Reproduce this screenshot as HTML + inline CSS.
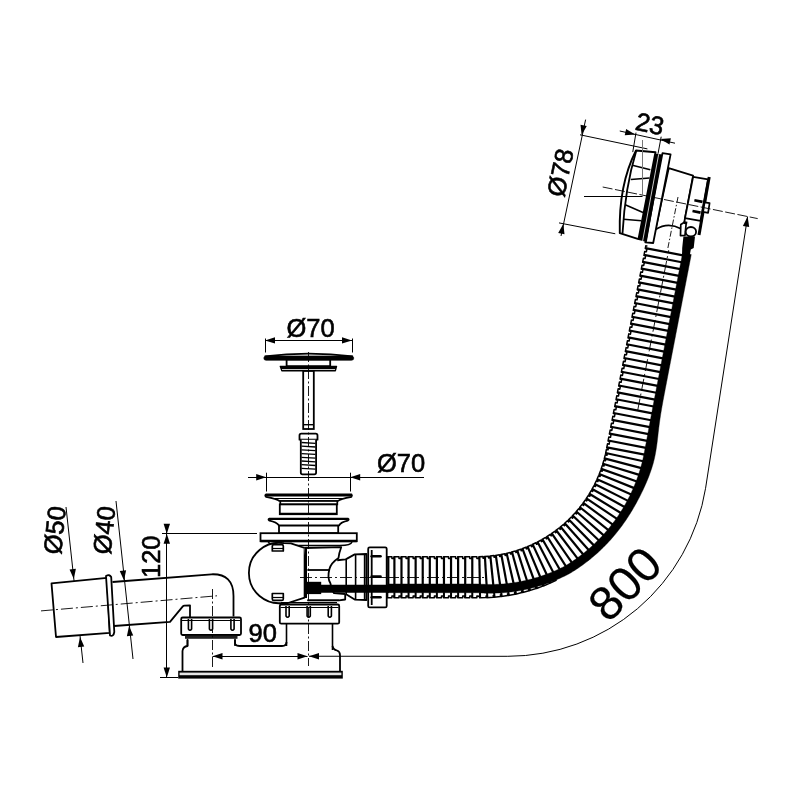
<!DOCTYPE html>
<html><head><meta charset="utf-8"><style>
html,body{margin:0;padding:0;background:#fff;}
svg{display:block;}
text{font-family:"Liberation Sans",sans-serif;fill:#000;}
svg{will-change:transform;}
</style></head><body>
<svg width="800" height="800" viewBox="0 0 800 800">
<rect width="800" height="800" fill="#fff"/>
<path d="M387.5,556.5 L388.7,556.5 L389.89,556.5 L391.09,556.5 L392.29,556.5 L393.49,556.5 L394.68,556.5 L395.88,556.5 L397.08,556.5 L398.28,556.5 L399.47,556.5 L400.67,556.5 L401.87,556.5 L403.07,556.5 L404.26,556.5 L405.46,556.5 L406.66,556.5 L407.85,556.5 L409.05,556.5 L410.25,556.5 L411.45,556.5 L412.64,556.5 L413.84,556.5 L415.04,556.5 L416.24,556.5 L417.43,556.5 L418.63,556.5 L419.83,556.5 L421.02,556.5 L422.22,556.5 L423.42,556.5 L424.62,556.5 L425.81,556.5 L427.01,556.5 L428.21,556.5 L429.41,556.5 L430.6,556.5 L431.8,556.5 L433,556.5 L434.2,556.5 L435.39,556.5 L436.59,556.5 L437.79,556.5 L438.98,556.5 L440.18,556.5 L441.38,556.5 L442.58,556.5 L443.77,556.5 L444.97,556.5 L446.17,556.5 L447.37,556.5 L448.56,556.5 L449.76,556.5 L450.96,556.5 L452.16,556.5 L453.35,556.5 L454.55,556.5 L455.75,556.5 L456.94,556.5 L458.14,556.5 L459.34,556.5 L460.54,556.5 L461.73,556.5 L462.93,556.5 L464.13,556.5 L465.33,556.5 L466.52,556.5 L467.72,556.5 L468.92,556.5 L470.12,556.5 L471.31,556.5 L472.51,556.5 L473.71,556.5 L474.9,556.5 L476.1,556.5 L477.3,556.5 L478.5,556.49 L479.69,556.47 L480.89,556.44 L482.09,556.4 L483.28,556.35 L484.48,556.29 L485.67,556.21 L486.87,556.13 L488.06,556.03 L489.25,555.93 L490.45,555.81 L491.64,555.68 L492.83,555.54 L494.01,555.39 L495.2,555.23 L496.39,555.06 L497.57,554.88 L498.75,554.69 L499.93,554.49 L501.11,554.27 L502.28,554.05 L503.46,553.81 L504.63,553.56 L505.8,553.31 L506.97,553.04 L508.13,552.76 L509.29,552.47 L510.45,552.17 L511.61,551.86 L512.76,551.54 L513.91,551.21 L515.06,550.87 L516.21,550.52 L517.35,550.16 L518.48,549.78 L519.62,549.4 L520.75,549.01 L521.88,548.61 L523,548.19 L524.12,547.77 L525.24,547.33 L526.35,546.89 L527.46,546.44 L528.56,545.97 L529.66,545.5 L530.75,545.01 L531.84,544.52 L532.93,544.01 L534.01,543.5 L535.09,542.97 L536.16,542.44 L537.23,541.9 L538.29,541.34 L539.35,540.78 L540.4,540.21 L541.44,539.63 L542.48,539.04 L543.52,538.43 L544.55,537.82 L545.57,537.2 L546.59,536.58 L547.61,535.94 L548.61,535.29 L549.61,534.63 L550.61,533.97 L551.6,533.29 L552.58,532.61 L553.56,531.92 L554.53,531.21 L555.49,530.5 L556.45,529.79 L557.4,529.06 L558.34,528.32 L559.28,527.58 L560.21,526.82 L561.14,526.06 L562.05,525.29 L562.96,524.51 L563.86,523.73 L564.76,522.93 L565.65,522.13 L566.53,521.32 L567.4,520.5 L568.27,519.67 L569.13,518.84 L569.98,517.99 L570.82,517.14 L571.65,516.28 L572.48,515.42 L573.3,514.55 L574.11,513.66 L574.92,512.78 L575.71,511.88 L576.5,510.98 L577.28,510.07 L578.05,509.15 L578.81,508.23 L579.56,507.3 L580.31,506.36 L581.04,505.42 L581.77,504.47 L582.49,503.51 L583.2,502.55 L583.9,501.58 L584.6,500.6 L585.28,499.62 L585.95,498.63 L586.62,497.63 L587.28,496.63 L587.93,495.62 L588.56,494.61 L589.19,493.59 L589.81,492.57 L590.42,491.54 L591.02,490.5 L591.62,489.46 L592.2,488.42 L592.77,487.36 L593.33,486.31 L593.89,485.25 L594.43,484.18 L594.96,483.11 L595.49,482.03 L596,480.95 L596.51,479.86 L597,478.77 L597.49,477.68 L597.96,476.58 L598.43,475.48 L598.88,474.37 L599.33,473.26 L599.76,472.14 L600.18,471.02 L600.6,469.9 L601,468.77 L601.39,467.64 L601.78,466.51 L602.15,465.37 L602.51,464.23 L602.86,463.08 L603.21,461.93 L603.54,460.78 L603.86,459.63 L604.17,458.47 L604.47,457.31 L604.76,456.15 L605.03,454.99 L605.3,453.82 L605.56,452.65 L605.81,451.48 L606.04,450.31 L606.27,449.13 L606.5,447.96 L606.72,446.78 L606.95,445.6 L607.18,444.43 L607.41,443.25 L607.63,442.08 L607.86,440.9 L608.09,439.73 L608.32,438.55 L608.54,437.38 L608.77,436.2 L609,435.02 L609.23,433.85 L609.45,432.67 L609.68,431.5 L609.91,430.32 L610.14,429.15 L610.36,427.97 L610.59,426.8 L610.82,425.62 L611.05,424.44 L611.27,423.27 L611.5,422.09 L611.73,420.92 L611.96,419.74 L612.18,418.57 L612.41,417.39 L612.64,416.22 L612.87,415.04 L613.09,413.87 L613.32,412.69 L613.55,411.51 L613.78,410.34 L614,409.16 L614.23,407.99 L614.46,406.81 L614.68,405.64 L614.91,404.46 L615.14,403.29 L615.37,402.11 L615.59,400.93 L615.82,399.76 L616.05,398.58 L616.28,397.41 L616.5,396.23 L616.73,395.06 L616.96,393.88 L617.19,392.71 L617.41,391.53 L617.64,390.35 L617.87,389.18 L618.1,388 L618.32,386.83 L618.55,385.65 L618.78,384.48 L619.01,383.3 L619.23,382.13 L619.46,380.95 L619.69,379.78 L619.92,378.6 L620.14,377.42 L620.37,376.25 L620.6,375.07 L620.83,373.9 L621.05,372.72 L621.28,371.55 L621.51,370.37 L621.74,369.2 L621.96,368.02 L622.19,366.84 L622.42,365.67 L622.65,364.49 L622.87,363.32 L623.1,362.14 L623.33,360.97 L623.55,359.79 L623.78,358.62 L624.01,357.44 L624.24,356.26 L624.46,355.09 L624.69,353.91 L624.92,352.74 L625.15,351.56 L625.37,350.39 L625.6,349.21 L625.83,348.04 L626.06,346.86 L626.28,345.69 L626.51,344.51 L626.74,343.33 L626.97,342.16 L627.19,340.98 L627.42,339.81 L627.65,338.63 L627.88,337.46 L628.1,336.28 L628.33,335.11 L628.56,333.93 L628.79,332.75 L629.01,331.58 L629.24,330.4 L629.47,329.23 L629.7,328.05 L629.92,326.88 L630.15,325.7 L630.38,324.53 L630.61,323.35 L630.83,322.17 L631.06,321 L631.29,319.82 L631.52,318.65 L631.74,317.47 L631.97,316.3 L632.2,315.12 L632.42,313.95 L632.65,312.77 L632.88,311.59 L633.11,310.42 L633.33,309.24 L633.56,308.07 L633.79,306.89 L634.02,305.72 L634.24,304.54 L634.47,303.37 L634.7,302.19 L634.93,301.02 L635.15,299.84 L635.38,298.66 L635.61,297.49 L635.84,296.31 L636.06,295.14 L636.29,293.96 L636.52,292.79 L636.75,291.61 L636.97,290.44 L637.2,289.26 L637.43,288.08 L637.66,286.91 L637.88,285.73 L638.11,284.56 L638.34,283.38 L638.57,282.21 L638.79,281.03 L639.02,279.86 L639.25,278.68 L639.48,277.5 L639.7,276.33 L639.93,275.15 L640.16,273.98 L640.38,272.8 L640.61,271.63 L640.84,270.45 L641.07,269.28 L641.29,268.1 L641.52,266.93 L641.75,265.75 L641.98,264.57 L642.2,263.4 L642.43,262.22 L642.66,261.05 L642.89,259.87 L643.11,258.7 L643.34,257.52 L643.57,256.35 L643.8,255.17 L644.02,253.99 L644.25,252.82 L644.48,251.64 L644.71,250.47 L644.93,249.29 L645.16,248.12 L645.39,246.94 L645.62,245.77 L691.27,254.6 L691.04,255.77 L690.81,256.95 L690.59,258.13 L690.36,259.3 L690.13,260.48 L689.9,261.65 L689.68,262.83 L689.45,264 L689.22,265.18 L688.99,266.35 L688.77,267.53 L688.54,268.7 L688.31,269.88 L688.09,271.06 L687.86,272.23 L687.63,273.41 L687.4,274.58 L687.18,275.76 L686.95,276.93 L686.72,278.11 L686.49,279.28 L686.27,280.46 L686.04,281.64 L685.81,282.81 L685.58,283.99 L685.36,285.16 L685.13,286.34 L684.9,287.51 L684.67,288.69 L684.45,289.86 L684.22,291.04 L683.99,292.22 L683.76,293.39 L683.54,294.57 L683.31,295.74 L683.08,296.92 L682.85,298.09 L682.63,299.27 L682.4,300.44 L682.17,301.62 L681.94,302.79 L681.72,303.97 L681.49,305.15 L681.26,306.32 L681.03,307.5 L680.81,308.67 L680.58,309.85 L680.35,311.02 L680.13,312.2 L679.9,313.37 L679.67,314.55 L679.44,315.73 L679.22,316.9 L678.99,318.08 L678.76,319.25 L678.53,320.43 L678.31,321.6 L678.08,322.78 L677.85,323.95 L677.62,325.13 L677.4,326.31 L677.17,327.48 L676.94,328.66 L676.71,329.83 L676.49,331.01 L676.26,332.18 L676.03,333.36 L675.8,334.53 L675.58,335.71 L675.35,336.89 L675.12,338.06 L674.89,339.24 L674.67,340.41 L674.44,341.59 L674.21,342.76 L673.98,343.94 L673.76,345.11 L673.53,346.29 L673.3,347.46 L673.07,348.64 L672.85,349.82 L672.62,350.99 L672.39,352.17 L672.16,353.34 L671.94,354.52 L671.71,355.69 L671.48,356.87 L671.26,358.04 L671.03,359.22 L670.8,360.4 L670.57,361.57 L670.35,362.75 L670.12,363.92 L669.89,365.1 L669.66,366.27 L669.44,367.45 L669.21,368.62 L668.98,369.8 L668.75,370.98 L668.53,372.15 L668.3,373.33 L668.07,374.5 L667.84,375.68 L667.62,376.85 L667.39,378.03 L667.16,379.2 L666.94,380.38 L666.71,381.56 L666.48,382.73 L666.26,383.91 L666.03,385.08 L665.8,386.26 L665.58,387.43 L665.35,388.61 L665.13,389.79 L664.9,390.96 L664.68,392.14 L664.45,393.31 L664.23,394.49 L664.01,395.67 L663.78,396.84 L663.56,398.02 L663.34,399.2 L663.12,400.37 L662.91,401.55 L662.69,402.73 L662.48,403.91 L662.27,405.09 L662.06,406.27 L661.85,407.44 L661.64,408.62 L661.44,409.8 L661.24,410.99 L661.05,412.17 L660.85,413.35 L660.66,414.53 L660.48,415.72 L660.3,416.9 L660.12,418.09 L659.95,419.27 L659.78,420.46 L659.61,421.65 L659.45,422.83 L659.29,424.02 L659.14,425.21 L658.99,426.4 L658.84,427.6 L658.7,428.79 L658.56,429.98 L658.42,431.17 L658.29,432.37 L658.15,433.56 L658.02,434.75 L657.89,435.95 L657.75,437.14 L657.61,438.33 L657.48,439.53 L657.34,440.72 L657.19,441.91 L657.04,443.1 L656.89,444.29 L656.73,445.48 L656.56,446.67 L656.38,447.85 L656.2,449.04 L656.01,450.22 L655.81,451.4 L655.6,452.58 L655.38,453.76 L655.16,454.93 L654.92,456.1 L654.68,457.28 L654.42,458.45 L654.12,459.74 L653.72,461.33 L653.3,462.92 L652.86,464.5 L652.39,466.08 L651.91,467.65 L651.4,469.21 L650.88,470.77 L650.34,472.32 L649.78,473.86 L649.21,475.4 L648.62,476.93 L648.02,478.45 L647.41,479.97 L646.78,481.47 L646.14,482.98 L645.48,484.47 L644.82,485.96 L644.15,487.45 L643.46,488.92 L642.77,490.4 L642.07,491.86 L641.35,493.32 L640.63,494.78 L639.9,496.22 L639.16,497.67 L638.41,499.1 L637.66,500.53 L636.89,501.96 L636.11,503.38 L635.33,504.79 L634.53,506.2 L633.73,507.6 L632.92,508.99 L632.1,510.38 L631.26,511.76 L630.42,513.13 L629.57,514.5 L628.7,515.86 L627.83,517.22 L626.95,518.56 L626.05,519.9 L625.15,521.23 L624.23,522.55 L623.3,523.87 L622.36,525.17 L621.41,526.47 L620.45,527.76 L619.48,529.04 L618.5,530.31 L617.51,531.57 L616.5,532.83 L615.49,534.07 L614.46,535.31 L613.43,536.53 L612.38,537.75 L611.32,538.95 L610.25,540.15 L609.17,541.34 L608.08,542.51 L606.98,543.68 L605.87,544.83 L604.75,545.98 L603.62,547.11 L602.48,548.24 L601.33,549.35 L600.17,550.46 L599,551.55 L597.82,552.63 L596.63,553.7 L595.43,554.76 L594.22,555.81 L593.01,556.85 L591.78,557.87 L590.54,558.89 L589.3,559.89 L588.04,560.88 L586.78,561.86 L585.51,562.83 L584.23,563.78 L582.94,564.73 L581.65,565.66 L580.34,566.58 L579.03,567.49 L577.71,568.39 L576.38,569.27 L575.05,570.14 L573.7,571 L572.35,571.85 L570.99,572.68 L569.63,573.5 L568.25,574.31 L566.87,575.11 L565.48,575.89 L564.09,576.66 L562.69,577.42 L561.28,578.16 L559.87,578.9 L558.45,579.62 L557.02,580.32 L555.59,581.01 L554.15,581.69 L552.71,582.36 L551.26,583.01 L549.8,583.65 L548.34,584.28 L546.88,584.89 L545.4,585.49 L543.93,586.08 L542.44,586.65 L540.96,587.21 L539.47,587.75 L537.97,588.28 L536.47,588.8 L534.97,589.3 L533.46,589.79 L531.94,590.27 L530.43,590.73 L528.91,591.18 L527.38,591.61 L525.85,592.03 L524.32,592.44 L522.79,592.83 L521.25,593.21 L519.71,593.57 L518.16,593.92 L516.61,594.26 L515.06,594.58 L513.51,594.89 L511.96,595.18 L510.4,595.46 L508.84,595.72 L507.28,595.97 L505.71,596.21 L504.15,596.43 L502.58,596.64 L501.01,596.83 L499.44,597.01 L497.87,597.18 L496.3,597.33 L494.73,597.46 L493.15,597.58 L491.58,597.69 L490,597.78 L488.43,597.86 L486.85,597.93 L485.27,597.98 L483.7,598.01 L482.12,598.03 L480.55,598.04 L478.97,598.03 L477.39,598.01 L476.1,598 L474.9,598 L473.71,598 L472.51,598 L471.31,598 L470.12,598 L468.92,598 L467.72,598 L466.52,598 L465.33,598 L464.13,598 L462.93,598 L461.73,598 L460.54,598 L459.34,598 L458.14,598 L456.94,598 L455.75,598 L454.55,598 L453.35,598 L452.16,598 L450.96,598 L449.76,598 L448.56,598 L447.37,598 L446.17,598 L444.97,598 L443.77,598 L442.58,598 L441.38,598 L440.18,598 L438.98,598 L437.79,598 L436.59,598 L435.39,598 L434.2,598 L433,598 L431.8,598 L430.6,598 L429.41,598 L428.21,598 L427.01,598 L425.81,598 L424.62,598 L423.42,598 L422.22,598 L421.02,598 L419.83,598 L418.63,598 L417.43,598 L416.24,598 L415.04,598 L413.84,598 L412.64,598 L411.45,598 L410.25,598 L409.05,598 L407.85,598 L406.66,598 L405.46,598 L404.26,598 L403.07,598 L401.87,598 L400.67,598 L399.47,598 L398.28,598 L397.08,598 L395.88,598 L394.68,598 L393.49,598 L392.29,598 L391.09,598 L389.89,598 L388.7,598 L387.5,598 Z" fill="#fff" stroke="none" stroke-width="0" stroke-linejoin="round" />
<line x1="388.3" y1="556.7" x2="388.3" y2="584.7" stroke="#000" stroke-width="2.2" />
<line x1="394.4" y1="556.7" x2="394.4" y2="584.7" stroke="#000" stroke-width="2.2" />
<line x1="401.48" y1="556.7" x2="401.48" y2="584.7" stroke="#000" stroke-width="2.2" />
<line x1="408.56" y1="556.7" x2="408.56" y2="584.7" stroke="#000" stroke-width="2.2" />
<line x1="415.64" y1="556.7" x2="415.64" y2="584.7" stroke="#000" stroke-width="2.2" />
<line x1="422.72" y1="556.7" x2="422.72" y2="584.7" stroke="#000" stroke-width="2.2" />
<line x1="429.8" y1="556.7" x2="429.8" y2="584.7" stroke="#000" stroke-width="2.2" />
<line x1="436.88" y1="556.7" x2="436.88" y2="584.7" stroke="#000" stroke-width="2.2" />
<line x1="443.96" y1="556.7" x2="443.96" y2="584.7" stroke="#000" stroke-width="2.2" />
<line x1="451.04" y1="556.7" x2="451.04" y2="584.7" stroke="#000" stroke-width="2.2" />
<line x1="458.12" y1="556.7" x2="458.12" y2="584.7" stroke="#000" stroke-width="2.2" />
<line x1="465.2" y1="556.7" x2="465.2" y2="584.7" stroke="#000" stroke-width="2.2" />
<line x1="472.28" y1="556.7" x2="472.28" y2="584.7" stroke="#000" stroke-width="2.2" />
<line x1="479.36" y1="556.68" x2="479.87" y2="584.91" stroke="#000" stroke-width="2.2" />
<line x1="484.87" y1="556.46" x2="486.59" y2="585.2" stroke="#000" stroke-width="2.2" />
<line x1="490.36" y1="556.02" x2="493.33" y2="585.21" stroke="#000" stroke-width="2.2" />
<line x1="495.82" y1="555.35" x2="500.1" y2="584.94" stroke="#000" stroke-width="2.2" />
<line x1="501.26" y1="554.45" x2="506.87" y2="584.38" stroke="#000" stroke-width="2.2" />
<line x1="506.65" y1="553.32" x2="513.63" y2="583.53" stroke="#000" stroke-width="2.2" />
<line x1="511.99" y1="551.97" x2="520.37" y2="582.39" stroke="#000" stroke-width="2.2" />
<line x1="517.27" y1="550.39" x2="527.08" y2="580.97" stroke="#000" stroke-width="2.2" />
<line x1="522.47" y1="548.6" x2="533.75" y2="579.25" stroke="#000" stroke-width="2.2" />
<line x1="527.6" y1="546.59" x2="540.37" y2="577.26" stroke="#000" stroke-width="2.2" />
<line x1="532.64" y1="544.37" x2="546.91" y2="574.98" stroke="#000" stroke-width="2.2" />
<line x1="537.59" y1="541.94" x2="553.37" y2="572.41" stroke="#000" stroke-width="2.2" />
<line x1="542.42" y1="539.3" x2="559.75" y2="569.57" stroke="#000" stroke-width="2.2" />
<line x1="547.14" y1="536.47" x2="565.96" y2="566.37" stroke="#000" stroke-width="2.2" />
<line x1="551.74" y1="533.44" x2="571.88" y2="562.65" stroke="#000" stroke-width="2.2" />
<line x1="556.21" y1="530.22" x2="577.65" y2="558.69" stroke="#000" stroke-width="2.2" />
<line x1="560.54" y1="526.81" x2="583.24" y2="554.48" stroke="#000" stroke-width="2.2" />
<line x1="564.73" y1="523.23" x2="588.67" y2="550.04" stroke="#000" stroke-width="2.2" />
<line x1="568.76" y1="519.48" x2="593.9" y2="545.37" stroke="#000" stroke-width="2.2" />
<line x1="572.63" y1="515.56" x2="598.94" y2="540.48" stroke="#000" stroke-width="2.2" />
<line x1="576.33" y1="511.48" x2="603.78" y2="535.38" stroke="#000" stroke-width="2.2" />
<line x1="579.86" y1="507.25" x2="608.4" y2="530.08" stroke="#000" stroke-width="2.2" />
<line x1="583.21" y1="502.88" x2="612.8" y2="524.58" stroke="#000" stroke-width="2.2" />
<line x1="586.37" y1="498.37" x2="616.98" y2="518.9" stroke="#000" stroke-width="2.2" />
<line x1="589.34" y1="493.73" x2="620.91" y2="513.05" stroke="#000" stroke-width="2.2" />
<line x1="592.12" y1="488.97" x2="624.61" y2="507.03" stroke="#000" stroke-width="2.2" />
<line x1="594.69" y1="484.1" x2="628.06" y2="500.86" stroke="#000" stroke-width="2.2" />
<line x1="597.06" y1="479.13" x2="631.26" y2="494.55" stroke="#000" stroke-width="2.2" />
<line x1="599.22" y1="474.06" x2="634.2" y2="488.11" stroke="#000" stroke-width="2.2" />
<line x1="601.16" y1="468.91" x2="636.88" y2="481.54" stroke="#000" stroke-width="2.2" />
<line x1="602.89" y1="463.68" x2="639.29" y2="474.86" stroke="#000" stroke-width="2.2" />
<line x1="604.4" y1="458.38" x2="641.42" y2="468.08" stroke="#000" stroke-width="2.2" />
<line x1="605.68" y1="453.03" x2="643.26" y2="461.21" stroke="#000" stroke-width="2.2" />
<line x1="606.82" y1="447.37" x2="644.67" y2="454.69" stroke="#000" stroke-width="2.2" />
<line x1="608.14" y1="440.49" x2="646" y2="447.82" stroke="#000" stroke-width="2.2" />
<line x1="609.47" y1="433.62" x2="647.29" y2="440.94" stroke="#000" stroke-width="2.2" />
<line x1="610.8" y1="426.75" x2="648.57" y2="434.06" stroke="#000" stroke-width="2.2" />
<line x1="612.13" y1="419.88" x2="649.85" y2="427.17" stroke="#000" stroke-width="2.2" />
<line x1="613.46" y1="413" x2="651.13" y2="420.29" stroke="#000" stroke-width="2.2" />
<line x1="614.79" y1="406.13" x2="652.43" y2="413.41" stroke="#000" stroke-width="2.2" />
<line x1="616.12" y1="399.26" x2="653.74" y2="406.54" stroke="#000" stroke-width="2.2" />
<line x1="617.45" y1="392.39" x2="655.06" y2="399.66" stroke="#000" stroke-width="2.2" />
<line x1="618.78" y1="385.51" x2="656.39" y2="392.79" stroke="#000" stroke-width="2.2" />
<line x1="620.11" y1="378.64" x2="657.72" y2="385.92" stroke="#000" stroke-width="2.2" />
<line x1="621.44" y1="371.77" x2="659.04" y2="379.04" stroke="#000" stroke-width="2.2" />
<line x1="622.77" y1="364.9" x2="660.37" y2="372.17" stroke="#000" stroke-width="2.2" />
<line x1="624.1" y1="358.02" x2="661.7" y2="365.3" stroke="#000" stroke-width="2.2" />
<line x1="625.43" y1="351.15" x2="663.03" y2="358.43" stroke="#000" stroke-width="2.2" />
<line x1="626.76" y1="344.28" x2="664.36" y2="351.55" stroke="#000" stroke-width="2.2" />
<line x1="628.09" y1="337.41" x2="665.69" y2="344.68" stroke="#000" stroke-width="2.2" />
<line x1="629.42" y1="330.53" x2="667.02" y2="337.81" stroke="#000" stroke-width="2.2" />
<line x1="630.75" y1="323.66" x2="668.35" y2="330.94" stroke="#000" stroke-width="2.2" />
<line x1="632.08" y1="316.79" x2="669.68" y2="324.06" stroke="#000" stroke-width="2.2" />
<line x1="633.41" y1="309.91" x2="671.01" y2="317.19" stroke="#000" stroke-width="2.2" />
<line x1="634.74" y1="303.04" x2="672.34" y2="310.32" stroke="#000" stroke-width="2.2" />
<line x1="636.07" y1="296.17" x2="673.67" y2="303.44" stroke="#000" stroke-width="2.2" />
<line x1="637.4" y1="289.3" x2="675" y2="296.57" stroke="#000" stroke-width="2.2" />
<line x1="638.73" y1="282.42" x2="676.33" y2="289.7" stroke="#000" stroke-width="2.2" />
<line x1="640.06" y1="275.55" x2="677.66" y2="282.83" stroke="#000" stroke-width="2.2" />
<line x1="641.39" y1="268.68" x2="678.99" y2="275.95" stroke="#000" stroke-width="2.2" />
<line x1="642.72" y1="261.81" x2="680.32" y2="269.08" stroke="#000" stroke-width="2.2" />
<line x1="644.05" y1="254.93" x2="681.65" y2="262.21" stroke="#000" stroke-width="2.2" />
<line x1="645.38" y1="248.06" x2="682.98" y2="255.34" stroke="#000" stroke-width="2.2" />
<path d="M387.5,558.4 L387.5,558.4 L387.5,556.7 L391.92,556.7 L391.92,558.4 L394,558.4 L394,556.7 L399,556.7 L399,558.4 L401.08,558.4 L401.08,556.7 L406.08,556.7 L406.08,558.4 L408.16,558.4 L408.16,556.7 L413.16,556.7 L413.16,558.4 L415.24,558.4 L415.24,556.7 L420.24,556.7 L420.24,558.4 L422.32,558.4 L422.32,556.7 L427.32,556.7 L427.32,558.4 L429.4,558.4 L429.4,556.7 L434.4,556.7 L434.4,558.4 L436.48,558.4 L436.48,556.7 L441.48,556.7 L441.48,558.4 L443.56,558.4 L443.56,556.7 L448.56,556.7 L448.56,558.4 L450.64,558.4 L450.64,556.7 L455.64,556.7 L455.64,558.4 L457.72,558.4 L457.72,556.7 L462.72,556.7 L462.72,558.4 L464.8,558.4 L464.8,556.7 L469.8,556.7 L469.8,558.4 L471.88,558.4 L471.88,556.7 L476.88,556.7 L476.88,558.4 L478.99,558.39 L478.96,556.69 L482.97,556.56 L483.04,558.26 L484.56,558.19 L484.47,556.49 L488.46,556.2 L488.61,557.89 L490.13,557.75 L489.96,556.06 L493.94,555.61 L494.16,557.29 L495.67,557.09 L495.43,555.4 L499.38,554.78 L499.67,556.46 L501.17,556.19 L500.86,554.52 L504.79,553.73 L505.15,555.4 L506.64,555.07 L506.26,553.41 L510.15,552.46 L510.58,554.1 L512.05,553.71 L511.6,552.07 L515.45,550.96 L515.95,552.59 L517.4,552.14 L516.89,550.52 L520.68,549.24 L521.25,550.85 L522.68,550.33 L522.1,548.74 L525.84,547.31 L526.47,548.89 L527.88,548.32 L527.23,546.74 L530.91,545.16 L531.61,546.71 L532.99,546.08 L532.28,544.54 L535.89,542.8 L536.65,544.32 L538.01,543.63 L537.23,542.12 L540.76,540.24 L541.59,541.72 L542.91,540.98 L542.07,539.5 L545.53,537.47 L546.41,538.92 L547.71,538.12 L546.8,536.68 L550.17,534.5 L551.11,535.92 L552.37,535.07 L551.41,533.66 L554.68,531.35 L555.69,532.72 L556.91,531.82 L555.89,530.46 L559.06,528.01 L560.12,529.34 L561.31,528.38 L560.23,527.07 L563.3,524.49 L564.41,525.77 L565.56,524.77 L564.43,523.5 L567.38,520.79 L568.55,522.03 L569.65,520.98 L568.47,519.75 L571.31,516.93 L572.53,518.12 L573.58,517.02 L572.35,515.85 L575.07,512.9 L576.34,514.04 L577.34,512.9 L576.07,511.78 L578.66,508.73 L579.97,509.81 L580.93,508.63 L579.61,507.56 L582.07,504.4 L583.43,505.43 L584.34,504.21 L582.97,503.2 L585.3,499.94 L586.7,500.91 L587.56,499.65 L586.15,498.7 L588.34,495.35 L589.78,496.25 L590.58,494.96 L589.13,494.07 L591.18,490.63 L592.66,491.48 L593.41,490.15 L591.92,489.32 L593.83,485.8 L595.33,486.58 L596.03,485.23 L594.51,484.46 L596.27,480.86 L597.81,481.58 L598.44,480.2 L596.9,479.5 L598.5,475.82 L600.07,476.48 L600.65,475.07 L599.07,474.44 L600.52,470.7 L602.11,471.29 L602.63,469.86 L601.03,469.29 L602.32,465.5 L603.94,466.02 L604.4,464.57 L602.77,464.06 L603.9,460.22 L605.54,460.67 L605.94,459.21 L604.3,458.77 L605.26,454.88 L606.92,455.27 L607.26,453.78 L605.6,453.42 L606.4,449.49 L608.07,449.82 L608.41,448.08 L606.74,447.76 L607.5,443.83 L609.17,444.15 L609.74,441.21 L608.07,440.89 L608.83,436.96 L610.5,437.28 L611.07,434.34 L609.4,434.01 L610.16,430.09 L611.83,430.41 L612.4,427.46 L610.73,427.14 L611.49,423.21 L613.16,423.54 L613.73,420.59 L612.06,420.27 L612.82,416.34 L614.49,416.66 L615.06,413.72 L613.39,413.4 L614.15,409.47 L615.82,409.79 L616.39,406.85 L614.72,406.52 L615.48,402.6 L617.15,402.92 L617.72,399.97 L616.05,399.65 L616.81,395.72 L618.48,396.05 L619.05,393.1 L617.38,392.78 L618.14,388.85 L619.81,389.17 L620.38,386.23 L618.71,385.91 L619.47,381.98 L621.13,382.3 L621.7,379.36 L620.04,379.03 L620.8,375.11 L622.46,375.43 L623.03,372.48 L621.37,372.16 L622.13,368.23 L623.79,368.56 L624.36,365.61 L622.7,365.29 L623.45,361.36 L625.12,361.68 L625.69,358.74 L624.02,358.42 L624.78,354.49 L626.45,354.81 L627.02,351.87 L625.35,351.54 L626.11,347.62 L627.78,347.94 L628.35,344.99 L626.68,344.67 L627.44,340.74 L629.11,341.07 L629.68,338.12 L628.01,337.8 L628.77,333.87 L630.44,334.19 L631.01,331.25 L629.34,330.93 L630.1,327 L631.77,327.32 L632.34,324.38 L630.67,324.05 L631.43,320.13 L633.1,320.45 L633.67,317.5 L632,317.18 L632.76,313.25 L634.43,313.58 L635,310.63 L633.33,310.31 L634.09,306.38 L635.76,306.7 L636.33,303.76 L634.66,303.43 L635.42,299.51 L637.09,299.83 L637.66,296.89 L635.99,296.56 L636.75,292.64 L638.42,292.96 L638.99,290.01 L637.32,289.69 L638.08,285.76 L639.75,286.09 L640.32,283.14 L638.65,282.82 L639.41,278.89 L641.08,279.21 L641.65,276.27 L639.98,275.94 L640.74,272.02 L642.41,272.34 L642.98,269.4 L641.31,269.07 L642.07,265.15 L643.74,265.47 L644.31,262.52 L642.64,262.2 L643.4,258.27 L645.07,258.6 L645.64,255.65 L643.97,255.33 L644.73,251.4 L646.4,251.72 L646.97,248.78 L645.3,248.45 L645.81,245.8 L647.48,246.13 L647.48,246.13" fill="none" stroke="#000" stroke-width="1.5" stroke-linejoin="round" />
<path d="M387.5,583.9 L388.7,583.9 L389.89,583.9 L391.09,583.9 L392.29,583.9 L393.49,583.9 L394.68,583.9 L395.88,583.9 L397.08,583.9 L398.28,583.9 L399.47,583.9 L400.67,583.9 L401.87,583.9 L403.07,583.9 L404.26,583.9 L405.46,583.9 L406.66,583.9 L407.85,583.9 L409.05,583.9 L410.25,583.9 L411.45,583.9 L412.64,583.9 L413.84,583.9 L415.04,583.9 L416.24,583.9 L417.43,583.9 L418.63,583.9 L419.83,583.9 L421.02,583.9 L422.22,583.9 L423.42,583.9 L424.62,583.9 L425.81,583.9 L427.01,583.9 L428.21,583.9 L429.41,583.9 L430.6,583.9 L431.8,583.9 L433,583.9 L434.2,583.9 L435.39,583.9 L436.59,583.9 L437.79,583.9 L438.98,583.9 L440.18,583.9 L441.38,583.9 L442.58,583.9 L443.77,583.9 L444.97,583.9 L446.17,583.9 L447.37,583.9 L448.56,583.9 L449.76,583.9 L450.96,583.9 L452.16,583.9 L453.35,583.9 L454.55,583.9 L455.75,583.9 L456.94,583.9 L458.14,583.9 L459.34,583.9 L460.54,583.9 L461.73,583.9 L462.93,583.9 L464.13,583.9 L465.33,583.9 L466.52,583.9 L467.72,583.9 L468.92,583.9 L470.12,583.9 L471.31,583.9 L472.51,583.9 L473.71,583.9 L474.9,583.9 L476.1,583.9 L477.36,583.93 L478.81,584.04 L480.26,584.14 L481.71,584.22 L483.17,584.29 L484.62,584.35 L486.08,584.39 L487.54,584.43 L489,584.44 L490.46,584.45 L491.92,584.44 L493.39,584.41 L494.85,584.38 L496.32,584.33 L497.78,584.27 L499.25,584.19 L500.71,584.1 L502.18,584 L503.65,583.88 L505.11,583.75 L506.58,583.6 L508.04,583.45 L509.51,583.28 L510.98,583.09 L512.44,582.89 L513.9,582.68 L515.37,582.45 L516.83,582.22 L518.29,581.96 L519.75,581.7 L521.2,581.42 L522.66,581.12 L524.12,580.82 L525.57,580.5 L527.02,580.16 L528.47,579.81 L529.91,579.45 L531.36,579.08 L532.8,578.69 L534.24,578.29 L535.68,577.87 L537.11,577.45 L538.54,577 L539.97,576.55 L541.39,576.08 L542.81,575.6 L544.23,575.1 L545.65,574.59 L547.06,574.07 L548.46,573.53 L549.86,572.99 L551.26,572.42 L552.66,571.85 L554.05,571.26 L555.43,570.66 L556.81,570.04 L558.19,569.42 L559.56,568.78 L560.93,568.12 L562.29,567.46 L563.65,566.78 L564.97,566.04 L566.27,565.26 L567.56,564.47 L568.84,563.66 L570.12,562.85 L571.39,562.02 L572.65,561.18 L573.91,560.33 L575.15,559.47 L576.39,558.6 L577.63,557.72 L578.85,556.82 L580.07,555.91 L581.28,555 L582.48,554.07 L583.67,553.13 L584.85,552.17 L586.03,551.21 L587.19,550.24 L588.35,549.25 L589.5,548.26 L590.64,547.26 L591.77,546.24 L592.89,545.21 L594.01,544.18 L595.11,543.13 L596.2,542.07 L597.29,541.01 L598.36,539.93 L599.43,538.84 L600.48,537.74 L601.53,536.64 L602.57,535.52 L603.59,534.39 L604.61,533.26 L605.61,532.11 L606.61,530.96 L607.6,529.79 L608.57,528.62 L609.53,527.44 L610.49,526.25 L611.43,525.05 L612.36,523.84 L613.28,522.62 L614.2,521.4 L615.1,520.16 L615.98,518.92 L616.86,517.67 L617.73,516.41 L618.58,515.14 L619.43,513.87 L620.26,512.59 L621.08,511.3 L621.89,510 L622.69,508.69 L623.47,507.38 L624.25,506.06 L625.01,504.73 L625.76,503.4 L626.5,502.06 L627.23,500.71 L627.95,499.36 L628.65,497.99 L629.34,496.63 L630.03,495.25 L630.69,493.87 L631.35,492.48 L631.99,491.09 L632.63,489.69 L633.25,488.29 L633.85,486.88 L634.45,485.46 L635.03,484.04 L635.6,482.61 L636.16,481.18 L636.7,479.74 L637.24,478.3 L637.76,476.85 L638.26,475.4 L638.75,473.94 L639.23,472.48 L639.7,471.01 L640.15,469.54 L640.59,468.06 L641.02,466.58 L641.43,465.1 L641.83,463.61 L642.21,462.11 L642.58,460.61 L642.93,459.11 L643.27,457.61 L643.53,456.34 L643.76,455.17 L643.99,453.99 L644.22,452.81 L644.45,451.64 L644.67,450.46 L644.9,449.29 L645.12,448.11 L645.35,446.94 L645.57,445.76 L645.79,444.58 L646.02,443.41 L646.24,442.23 L646.46,441.05 L646.68,439.88 L646.9,438.7 L647.11,437.52 L647.33,436.34 L647.55,435.17 L647.77,433.99 L647.99,432.81 L648.2,431.63 L648.42,430.46 L648.64,429.28 L648.86,428.1 L649.08,426.93 L649.3,425.75 L649.52,424.57 L649.74,423.39 L649.96,422.22 L650.18,421.04 L650.4,419.86 L650.62,418.69 L650.84,417.51 L651.06,416.33 L651.29,415.16 L651.51,413.98 L651.73,412.8 L651.95,411.63 L652.18,410.45 L652.4,409.28 L652.63,408.1 L652.85,406.92 L653.08,405.75 L653.3,404.57 L653.53,403.4 L653.75,402.22 L653.98,401.04 L654.21,399.87 L654.43,398.69 L654.66,397.52 L654.89,396.34 L655.11,395.17 L655.34,393.99 L655.57,392.81 L655.79,391.64 L656.02,390.46 L656.25,389.29 L656.48,388.11 L656.7,386.94 L656.93,385.76 L657.16,384.59 L657.38,383.41 L657.61,382.23 L657.84,381.06 L658.07,379.88 L658.29,378.71 L658.52,377.53 L658.75,376.36 L658.98,375.18 L659.2,374.01 L659.43,372.83 L659.66,371.65 L659.89,370.48 L660.11,369.3 L660.34,368.13 L660.57,366.95 L660.8,365.78 L661.02,364.6 L661.25,363.43 L661.48,362.25 L661.71,361.07 L661.93,359.9 L662.16,358.72 L662.39,357.55 L662.62,356.37 L662.84,355.2 L663.07,354.02 L663.3,352.85 L663.53,351.67 L663.75,350.5 L663.98,349.32 L664.21,348.14 L664.43,346.97 L664.66,345.79 L664.89,344.62 L665.12,343.44 L665.34,342.27 L665.57,341.09 L665.8,339.92 L666.03,338.74 L666.25,337.56 L666.48,336.39 L666.71,335.21 L666.94,334.04 L667.16,332.86 L667.39,331.69 L667.62,330.51 L667.85,329.34 L668.07,328.16 L668.3,326.98 L668.53,325.81 L668.76,324.63 L668.98,323.46 L669.21,322.28 L669.44,321.11 L669.67,319.93 L669.89,318.76 L670.12,317.58 L670.35,316.41 L670.58,315.23 L670.8,314.05 L671.03,312.88 L671.26,311.7 L671.49,310.53 L671.71,309.35 L671.94,308.18 L672.17,307 L672.39,305.83 L672.62,304.65 L672.85,303.47 L673.08,302.3 L673.3,301.12 L673.53,299.95 L673.76,298.77 L673.99,297.6 L674.21,296.42 L674.44,295.25 L674.67,294.07 L674.9,292.89 L675.12,291.72 L675.35,290.54 L675.58,289.37 L675.81,288.19 L676.03,287.02 L676.26,285.84 L676.49,284.67 L676.72,283.49 L676.94,282.31 L677.17,281.14 L677.4,279.96 L677.63,278.79 L677.85,277.61 L678.08,276.44 L678.31,275.26 L678.54,274.09 L678.76,272.91 L678.99,271.74 L679.22,270.56 L679.45,269.38 L679.67,268.21 L679.9,267.03 L680.13,265.86 L680.36,264.68 L680.58,263.51 L680.81,262.33 L681.04,261.16 L681.26,259.98 L681.49,258.8 L681.72,257.63 L681.95,256.45 L682.17,255.28 L682.4,254.1 L682.63,252.93 L691.27,254.6 L691.04,255.77 L690.81,256.95 L690.59,258.13 L690.36,259.3 L690.13,260.48 L689.9,261.65 L689.68,262.83 L689.45,264 L689.22,265.18 L688.99,266.35 L688.77,267.53 L688.54,268.7 L688.31,269.88 L688.09,271.06 L687.86,272.23 L687.63,273.41 L687.4,274.58 L687.18,275.76 L686.95,276.93 L686.72,278.11 L686.49,279.28 L686.27,280.46 L686.04,281.64 L685.81,282.81 L685.58,283.99 L685.36,285.16 L685.13,286.34 L684.9,287.51 L684.67,288.69 L684.45,289.86 L684.22,291.04 L683.99,292.22 L683.76,293.39 L683.54,294.57 L683.31,295.74 L683.08,296.92 L682.85,298.09 L682.63,299.27 L682.4,300.44 L682.17,301.62 L681.94,302.79 L681.72,303.97 L681.49,305.15 L681.26,306.32 L681.03,307.5 L680.81,308.67 L680.58,309.85 L680.35,311.02 L680.13,312.2 L679.9,313.37 L679.67,314.55 L679.44,315.73 L679.22,316.9 L678.99,318.08 L678.76,319.25 L678.53,320.43 L678.31,321.6 L678.08,322.78 L677.85,323.95 L677.62,325.13 L677.4,326.31 L677.17,327.48 L676.94,328.66 L676.71,329.83 L676.49,331.01 L676.26,332.18 L676.03,333.36 L675.8,334.53 L675.58,335.71 L675.35,336.89 L675.12,338.06 L674.89,339.24 L674.67,340.41 L674.44,341.59 L674.21,342.76 L673.98,343.94 L673.76,345.11 L673.53,346.29 L673.3,347.46 L673.07,348.64 L672.85,349.82 L672.62,350.99 L672.39,352.17 L672.16,353.34 L671.94,354.52 L671.71,355.69 L671.48,356.87 L671.26,358.04 L671.03,359.22 L670.8,360.4 L670.57,361.57 L670.35,362.75 L670.12,363.92 L669.89,365.1 L669.66,366.27 L669.44,367.45 L669.21,368.62 L668.98,369.8 L668.75,370.98 L668.53,372.15 L668.3,373.33 L668.07,374.5 L667.84,375.68 L667.62,376.85 L667.39,378.03 L667.16,379.2 L666.94,380.38 L666.71,381.56 L666.48,382.73 L666.26,383.91 L666.03,385.08 L665.8,386.26 L665.58,387.43 L665.35,388.61 L665.13,389.79 L664.9,390.96 L664.68,392.14 L664.45,393.31 L664.23,394.49 L664.01,395.67 L663.78,396.84 L663.56,398.02 L663.34,399.2 L663.12,400.37 L662.91,401.55 L662.69,402.73 L662.48,403.91 L662.27,405.09 L662.06,406.27 L661.85,407.44 L661.64,408.62 L661.44,409.8 L661.24,410.99 L661.05,412.17 L660.85,413.35 L660.66,414.53 L660.48,415.72 L660.3,416.9 L660.12,418.09 L659.95,419.27 L659.78,420.46 L659.61,421.65 L659.45,422.83 L659.29,424.02 L659.14,425.21 L658.99,426.4 L658.84,427.6 L658.7,428.79 L658.56,429.98 L658.42,431.17 L658.29,432.37 L658.15,433.56 L658.02,434.75 L657.89,435.95 L657.75,437.14 L657.61,438.33 L657.48,439.53 L657.34,440.72 L657.19,441.91 L657.04,443.1 L656.89,444.29 L656.73,445.48 L656.56,446.67 L656.38,447.85 L656.2,449.04 L656.01,450.22 L655.81,451.4 L655.6,452.58 L655.38,453.76 L655.16,454.93 L654.92,456.1 L654.68,457.28 L654.42,458.45 L654.12,459.74 L653.72,461.33 L653.3,462.92 L652.86,464.5 L652.39,466.08 L651.91,467.65 L651.4,469.21 L650.88,470.77 L650.34,472.32 L649.78,473.86 L649.21,475.4 L648.62,476.93 L648.02,478.45 L647.41,479.97 L646.78,481.47 L646.14,482.98 L645.48,484.47 L644.82,485.96 L644.15,487.45 L643.46,488.92 L642.77,490.4 L642.07,491.86 L641.35,493.32 L640.63,494.78 L639.9,496.22 L639.16,497.67 L638.41,499.1 L637.66,500.53 L636.89,501.96 L636.11,503.38 L635.33,504.79 L634.53,506.2 L633.73,507.6 L632.92,508.99 L632.1,510.38 L631.26,511.76 L630.42,513.13 L629.57,514.5 L628.7,515.86 L627.83,517.22 L626.95,518.56 L626.05,519.9 L625.15,521.23 L624.23,522.55 L623.3,523.87 L622.36,525.17 L621.41,526.47 L620.45,527.76 L619.48,529.04 L618.5,530.31 L617.51,531.57 L616.5,532.83 L615.49,534.07 L614.46,535.31 L613.43,536.53 L612.38,537.75 L611.32,538.95 L610.25,540.15 L609.17,541.34 L608.08,542.51 L606.98,543.68 L605.87,544.83 L604.75,545.98 L603.62,547.11 L602.48,548.24 L601.33,549.35 L600.17,550.46 L599,551.55 L597.82,552.63 L596.63,553.7 L595.43,554.76 L594.22,555.81 L593.01,556.85 L591.78,557.87 L590.54,558.89 L589.3,559.89 L588.04,560.88 L586.78,561.86 L585.51,562.83 L584.23,563.78 L582.94,564.73 L581.65,565.66 L580.34,566.58 L579.03,567.49 L577.71,568.39 L576.38,569.27 L575.05,570.14 L573.7,571 L572.35,571.85 L570.99,572.68 L569.63,573.5 L568.24,574.28 L566.81,575.01 L565.38,575.71 L563.94,576.41 L562.5,577.09 L561.06,577.75 L559.61,578.41 L558.15,579.05 L556.69,579.67 L555.22,580.28 L553.75,580.88 L552.28,581.46 L550.8,582.03 L549.32,582.59 L547.83,583.13 L546.34,583.66 L544.84,584.17 L543.34,584.67 L541.84,585.16 L540.34,585.63 L538.83,586.09 L537.32,586.53 L535.8,586.96 L534.29,587.38 L532.77,587.78 L531.24,588.17 L529.72,588.54 L528.19,588.9 L526.66,589.24 L525.13,589.57 L523.6,589.89 L522.06,590.19 L520.53,590.47 L518.99,590.75 L517.45,591 L515.91,591.25 L514.37,591.48 L512.82,591.69 L511.28,591.9 L509.74,592.08 L508.19,592.26 L506.65,592.41 L505.1,592.56 L503.56,592.69 L502.01,592.8 L500.46,592.91 L498.92,592.99 L497.37,593.07 L495.83,593.12 L494.29,593.17 L492.74,593.2 L491.2,593.22 L489.66,593.22 L488.12,593.21 L486.58,593.18 L485.04,593.14 L483.51,593.09 L481.97,593.02 L480.44,592.94 L478.91,592.84 L477.38,592.73 L476.1,592.7 L474.9,592.7 L473.71,592.7 L472.51,592.7 L471.31,592.7 L470.12,592.7 L468.92,592.7 L467.72,592.7 L466.52,592.7 L465.33,592.7 L464.13,592.7 L462.93,592.7 L461.73,592.7 L460.54,592.7 L459.34,592.7 L458.14,592.7 L456.94,592.7 L455.75,592.7 L454.55,592.7 L453.35,592.7 L452.16,592.7 L450.96,592.7 L449.76,592.7 L448.56,592.7 L447.37,592.7 L446.17,592.7 L444.97,592.7 L443.77,592.7 L442.58,592.7 L441.38,592.7 L440.18,592.7 L438.98,592.7 L437.79,592.7 L436.59,592.7 L435.39,592.7 L434.2,592.7 L433,592.7 L431.8,592.7 L430.6,592.7 L429.41,592.7 L428.21,592.7 L427.01,592.7 L425.81,592.7 L424.62,592.7 L423.42,592.7 L422.22,592.7 L421.02,592.7 L419.83,592.7 L418.63,592.7 L417.43,592.7 L416.24,592.7 L415.04,592.7 L413.84,592.7 L412.64,592.7 L411.45,592.7 L410.25,592.7 L409.05,592.7 L407.85,592.7 L406.66,592.7 L405.46,592.7 L404.26,592.7 L403.07,592.7 L401.87,592.7 L400.67,592.7 L399.47,592.7 L398.28,592.7 L397.08,592.7 L395.88,592.7 L394.68,592.7 L393.49,592.7 L392.29,592.7 L391.09,592.7 L389.89,592.7 L388.7,592.7 L387.5,592.7 Z" fill="#000" stroke="#000" stroke-width="0.4" stroke-linejoin="round" />
<line x1="387.32" y1="592.2" x2="387.32" y2="597.7" stroke="#000" stroke-width="2.0" />
<line x1="394.4" y1="592.2" x2="394.4" y2="597.7" stroke="#000" stroke-width="2.0" />
<line x1="401.48" y1="592.2" x2="401.48" y2="597.7" stroke="#000" stroke-width="2.0" />
<line x1="408.56" y1="592.2" x2="408.56" y2="597.7" stroke="#000" stroke-width="2.0" />
<line x1="415.64" y1="592.2" x2="415.64" y2="597.7" stroke="#000" stroke-width="2.0" />
<line x1="422.72" y1="592.2" x2="422.72" y2="597.7" stroke="#000" stroke-width="2.0" />
<line x1="429.8" y1="592.2" x2="429.8" y2="597.7" stroke="#000" stroke-width="2.0" />
<line x1="436.88" y1="592.2" x2="436.88" y2="597.7" stroke="#000" stroke-width="2.0" />
<line x1="443.96" y1="592.2" x2="443.96" y2="597.7" stroke="#000" stroke-width="2.0" />
<line x1="451.04" y1="592.2" x2="451.04" y2="597.7" stroke="#000" stroke-width="2.0" />
<line x1="458.12" y1="592.2" x2="458.12" y2="597.7" stroke="#000" stroke-width="2.0" />
<line x1="465.2" y1="592.2" x2="465.2" y2="597.7" stroke="#000" stroke-width="2.0" />
<line x1="472.28" y1="592.2" x2="472.28" y2="597.7" stroke="#000" stroke-width="2.0" />
<line x1="480" y1="592.41" x2="480.1" y2="597.74" stroke="#000" stroke-width="2.0" />
<line x1="487.04" y1="592.69" x2="487.33" y2="597.61" stroke="#000" stroke-width="2.0" />
<line x1="494.09" y1="592.67" x2="494.55" y2="597.18" stroke="#000" stroke-width="2.0" />
<line x1="501.17" y1="592.36" x2="501.76" y2="596.44" stroke="#000" stroke-width="2.0" />
<line x1="508.25" y1="591.75" x2="508.93" y2="595.41" stroke="#000" stroke-width="2.0" />
<line x1="515.32" y1="590.83" x2="516.06" y2="594.07" stroke="#000" stroke-width="2.0" />
<line x1="522.36" y1="589.62" x2="523.14" y2="592.43" stroke="#000" stroke-width="2.0" />
<line x1="529.38" y1="588.11" x2="530.15" y2="590.5" stroke="#000" stroke-width="2.0" />
<line x1="536.34" y1="586.29" x2="537.07" y2="588.28" stroke="#000" stroke-width="2.0" />
<line x1="543.25" y1="584.18" x2="543.91" y2="585.76" stroke="#000" stroke-width="2.0" />
<line x1="550.08" y1="581.77" x2="550.63" y2="582.96" stroke="#000" stroke-width="2.0" />
<path d="M386.92,596.1 L386.92,597.7 L391.92,597.7 L391.92,596.1 L394,596.1 L394,597.7 L399,597.7 L399,596.1 L401.08,596.1 L401.08,597.7 L406.08,597.7 L406.08,596.1 L408.16,596.1 L408.16,597.7 L413.16,597.7 L413.16,596.1 L415.24,596.1 L415.24,597.7 L420.24,597.7 L420.24,596.1 L422.32,596.1 L422.32,597.7 L427.32,597.7 L427.32,596.1 L429.4,596.1 L429.4,597.7 L434.4,597.7 L434.4,596.1 L436.48,596.1 L436.48,597.7 L441.48,597.7 L441.48,596.1 L443.56,596.1 L443.56,597.7 L448.56,597.7 L448.56,596.1 L450.64,596.1 L450.64,597.7 L455.64,597.7 L455.64,596.1 L457.72,596.1 L457.72,597.7 L462.72,597.7 L462.72,596.1 L464.8,596.1 L464.8,597.7 L469.8,597.7 L469.8,596.1 L471.88,596.1 L471.88,597.7 L476.88,597.7 L476.88,596.1 L479.55,596.15 L479.57,597.75 L486.14,597.52 L486.06,595.93 L486.71,596.04 L486.8,597.64 L493.36,597.14 L493.21,595.55 L493.87,595.64 L494.03,597.23 L500.56,596.46 L500.35,594.87 L501.01,594.93 L501.24,596.52 L507.74,595.47 L507.46,593.9 L508.12,593.93 L508.41,595.5 L514.87,594.18 L514.52,592.62 L515.19,592.63 L515.55,594.19 L521.95,592.6 L521.54,591.05 L522.21,591.03 L522.63,592.57 L528.97,590.72 L528.49,589.19 L529.16,589.14 L529.64,590.66 L535.9,588.54 L535.36,587.04 L536.03,586.96 L536.58,588.46 L542.75,586.08 L542.14,584.6 L542.81,584.49 L543.42,585.97 L549.49,583.32 L548.82,581.87 L549.48,581.73 L550.15,583.19 L556.11,580.29 L555.39,578.86" fill="none" stroke="#000" stroke-width="1.5" stroke-linejoin="round" />
<line x1="387" y1="577.5" x2="484" y2="577.5" stroke="#000" stroke-width="0.9" stroke-dasharray="12 3 2 3"/>
<line x1="637.73" y1="410.26" x2="668.69" y2="250.23" stroke="#000" stroke-width="0.9" stroke-dasharray="12 3 2 3"/>
<line x1="265" y1="340.5" x2="352" y2="340.5" stroke="#000" stroke-width="1.0" />
<path d="M265,340.4 L275,337.2 L275,343.6 Z" fill="#000"/>
<path d="M352,340.4 L342,343.6 L342,337.2 Z" fill="#000"/>
<line x1="265.5" y1="338.5" x2="265.5" y2="352.5" stroke="#000" stroke-width="1.0" />
<line x1="352.5" y1="338.5" x2="352.5" y2="352.5" stroke="#000" stroke-width="1.0" />
<text transform="translate(286.5,337) rotate(0) scale(1.0,1)" font-size="25.5" text-anchor="start" stroke="#000" stroke-width="0.6">Ø70</text>
<line x1="248" y1="477.5" x2="424" y2="477.5" stroke="#000" stroke-width="1.0" />
<path d="M266.2,477.2 L256.2,480.4 L256.2,474 Z" fill="#000"/>
<path d="M350.2,477.2 L360.2,474 L360.2,480.4 Z" fill="#000"/>
<line x1="266.5" y1="472.7" x2="266.5" y2="491.5" stroke="#000" stroke-width="1.0" />
<line x1="350.5" y1="472.7" x2="350.5" y2="491.5" stroke="#000" stroke-width="1.0" />
<text transform="translate(377,472) rotate(0) scale(1.0,1)" font-size="25.5" text-anchor="start" stroke="#000" stroke-width="0.6">Ø70</text>
<line x1="166.5" y1="524" x2="166.5" y2="677.5" stroke="#000" stroke-width="1.0" />
<path d="M166.8,533.7 L163.6,523.7 L170,523.7 Z" fill="#000"/>
<path d="M166.8,533.7 L170,543.7 L163.6,543.7 Z" fill="#000"/>
<path d="M166.8,677.5 L163.6,667.5 L170,667.5 Z" fill="#000"/>
<line x1="162" y1="533.5" x2="257" y2="533.5" stroke="#000" stroke-width="1.0" />
<line x1="160" y1="677.5" x2="178" y2="677.5" stroke="#000" stroke-width="1.0" />
<text transform="translate(160,578) rotate(-90) scale(1.0,1)" font-size="25.5" text-anchor="start" stroke="#000" stroke-width="0.6">120</text>
<line x1="212.5" y1="656.5" x2="307.5" y2="656.5" stroke="#000" stroke-width="1.0" />
<path d="M212.5,656.25 L222.5,653.05 L222.5,659.45 Z" fill="#000"/>
<path d="M307.5,656.25 L297.5,659.45 L297.5,653.05 Z" fill="#000"/>
<text transform="translate(248.5,642) rotate(0) scale(1.0,1)" font-size="25.5" text-anchor="start" stroke="#000" stroke-width="0.6">90</text>
<path d="M747.6,216.6 L705.57,488.29 A200.4,200.4 0 0 1 507.8,656.3 L309,656.25" fill="none" stroke="#000" stroke-width="1.0" stroke-linejoin="round" />
<path d="M747.6,216.6 L749.21,226.98 L742.89,225.98 Z" fill="#000"/>
<path d="M309,656.25 L319,653.05 L319,659.45 Z" fill="#000"/>
<text transform="translate(608.5,624) rotate(-45.5) scale(1.0,1)" font-size="48" text-anchor="start" stroke="#000" stroke-width="0.2">800</text>
<line x1="66" y1="507" x2="83" y2="663" stroke="#000" stroke-width="1.0" />
<path d="M73.8,579 L69.54,569.41 L75.9,568.71 Z" fill="#000"/>
<path d="M80,637 L84.26,646.59 L77.9,647.29 Z" fill="#000"/>
<text transform="translate(61,555) rotate(-84) scale(1.0,1)" font-size="25.5" text-anchor="start" stroke="#000" stroke-width="0.6">Ø50</text>
<line x1="116" y1="501" x2="133" y2="659" stroke="#000" stroke-width="1.0" />
<path d="M124,580.6 L119.75,571 L126.12,570.32 Z" fill="#000"/>
<path d="M129,626 L133.25,635.6 L126.88,636.28 Z" fill="#000"/>
<text transform="translate(110.5,555) rotate(-84) scale(1.0,1)" font-size="25.5" text-anchor="start" stroke="#000" stroke-width="0.6">Ø40</text>
<line x1="619.75" y1="131" x2="675" y2="143.2" stroke="#000" stroke-width="1.0" />
<path d="M635.2,134.4 L624.74,135.36 L626.13,129.11 Z" fill="#000"/>
<path d="M660.4,139.1 L670.86,138.14 L669.47,144.39 Z" fill="#000"/>
<line x1="636" y1="132.6" x2="632.75" y2="152.1" stroke="#000" stroke-width="1.0" />
<line x1="661.2" y1="136.7" x2="658" y2="153.75" stroke="#000" stroke-width="1.0" />
<text transform="translate(634.2,129.5) rotate(12) scale(1.0,1)" font-size="25.5" text-anchor="start" stroke="#000" stroke-width="0.6">23</text>
<line x1="585.6" y1="119.6" x2="561" y2="236" stroke="#000" stroke-width="1.0" />
<path d="M581.6,135.1 L580.52,124.66 L586.78,125.97 Z" fill="#000"/>
<path d="M563.4,223.8 L564.48,234.24 L558.22,232.93 Z" fill="#000"/>
<line x1="580" y1="134.8" x2="647.4" y2="148.9" stroke="#000" stroke-width="1.0" />
<line x1="559" y1="222.9" x2="615.25" y2="233.75" stroke="#000" stroke-width="1.0" />
<text transform="translate(564,198) rotate(-78.2) scale(1.0,1)" font-size="25.5" text-anchor="start" stroke="#000" stroke-width="0.6">Ø78</text>
<path d="M264.6,356.4 Q308.5,351 353,356.4" fill="none" stroke="#000" stroke-width="1.8" stroke-linejoin="round" />
<path d="M266,355.9 L351.5,355.9 Q353.8,356.5 353.8,358 Q353.8,360.3 351.5,360.3 L266,360.3 Q263.8,360.3 263.8,358 Q263.8,356.5 266,355.9 Z" fill="#000" stroke="#000" stroke-width="0.6" stroke-linejoin="round" />
<rect x="286.6" y="359.8" width="43.6" height="6.4" rx="0" fill="#fff" stroke="#000" stroke-width="1.8"/>
<path d="M280.2,366.3 L336.6,366.3 L335.4,370.9 L281.8,370.9 Z" fill="#000" stroke="#000" stroke-width="1.2" stroke-linejoin="round" />
<line x1="282" y1="369.5" x2="335" y2="369.5" stroke="#fff" stroke-width="0.8" />
<rect x="303.2" y="371" width="10.6" height="58" rx="0" fill="#fff" stroke="#000" stroke-width="1.8"/>
<line x1="303.2" y1="424.7" x2="313.8" y2="424.7" stroke="#000" stroke-width="1.4" />
<path d="M299.5,439.7 L299.5,435.5 Q299.5,433.7 301.3,433.7 L315.7,433.7 Q317.5,433.7 317.5,435.5 L317.5,439.7 Z" fill="#fff" stroke="#000" stroke-width="1.8" stroke-linejoin="round" />
<path d="M300.8,439.7 L300.8,472.5 Q300.8,474.3 302.6,474.3 L314.3,474.3 Q316.1,474.3 316.1,472.5 L316.1,439.7" fill="#fff" stroke="#000" stroke-width="1.8" stroke-linejoin="round" />
<line x1="301.5" y1="442.5" x2="315.5" y2="443.3" stroke="#000" stroke-width="1.3" />
<line x1="301.5" y1="446.2" x2="315.5" y2="447" stroke="#000" stroke-width="1.3" />
<line x1="301.5" y1="449.9" x2="315.5" y2="450.7" stroke="#000" stroke-width="1.3" />
<line x1="301.5" y1="453.6" x2="315.5" y2="454.4" stroke="#000" stroke-width="1.3" />
<line x1="301.5" y1="457.3" x2="315.5" y2="458.1" stroke="#000" stroke-width="1.3" />
<line x1="301.5" y1="461" x2="315.5" y2="461.8" stroke="#000" stroke-width="1.3" />
<line x1="301.5" y1="464.7" x2="315.5" y2="465.5" stroke="#000" stroke-width="1.3" />
<line x1="301.5" y1="468.4" x2="315.5" y2="469.2" stroke="#000" stroke-width="1.3" />
<path d="M266,494.4 L351.5,494.4 Q352.5,495.5 351.5,496.8 Q340,499 338,501 L279.5,501 Q277,499 266,496.8 Q264.5,495.5 266,494.4 Z" fill="#fff" stroke="#000" stroke-width="1.7" stroke-linejoin="round" />
<line x1="266" y1="495.4" x2="351.5" y2="495.4" stroke="#000" stroke-width="2.4" />
<line x1="272" y1="498.5" x2="345" y2="498.5" stroke="#000" stroke-width="1.2" />
<rect x="280.3" y="501" width="57" height="3.4" rx="0" fill="#fff" stroke="#000" stroke-width="1.7"/>
<rect x="279.8" y="504.4" width="57" height="9.8" rx="0" fill="#fff" stroke="#000" stroke-width="1.8"/>
<line x1="279.8" y1="513.9" x2="336.8" y2="513.9" stroke="#000" stroke-width="2.2" />
<path d="M269.5,518.6 L347.8,518.6 Q349.5,519.5 347.8,520.6 Q341,522 339,525.6 L279,525.6 Q276.5,522 269.5,520.6 Q267.5,519.5 269.5,518.6 Z" fill="#fff" stroke="#000" stroke-width="1.8" stroke-linejoin="round" />
<line x1="269.5" y1="519" x2="347.8" y2="519" stroke="#000" stroke-width="1.8" />
<rect x="279" y="525.6" width="59.2" height="7.5" rx="0" fill="#fff" stroke="#000" stroke-width="1.8"/>
<rect x="260.5" y="533.2" width="96.3" height="8" rx="0" fill="#fff" stroke="#000" stroke-width="1.8"/>
<line x1="260.5" y1="541" x2="356.8" y2="541" stroke="#000" stroke-width="2.4" />
<path d="M268,541.5 Q270,545.5 278,545.5 L340,545.5 Q351,545.5 352,542" fill="none" stroke="#000" stroke-width="1.4" stroke-linejoin="round" />
<path d="M284,543.2 A30.2,30.2 0 1 0 284,602.8 L288,603 L304.6,597.6 L304.6,548 L290.9,543.3 Z" fill="#fff" stroke="#000" stroke-width="1.8" stroke-linejoin="round" />
<path d="M272.3,551 L272.3,546 Q272.3,544.6 273.8,544.6 L281.8,544.6 Q283.3,544.6 283.3,546 L283.3,551 Z" fill="#fff" stroke="#000" stroke-width="1.7" stroke-linejoin="round" />
<line x1="272.3" y1="548.5" x2="283.3" y2="548.5" stroke="#000" stroke-width="1.2" />
<path d="M272.3,593.5 L272.3,599 Q272.3,600.4 273.8,600.4 L281.8,600.4 Q283.3,600.4 283.3,599 L283.3,593.5 Z" fill="#fff" stroke="#000" stroke-width="1.7" stroke-linejoin="round" />
<line x1="272.3" y1="597.5" x2="283.3" y2="597.5" stroke="#000" stroke-width="1.2" />
<path d="M304.6,548 L341.2,547.2 Q339,553 338.5,558 Q331,563 329.5,568.8 Q327,578 330.4,583.2 Q331.5,590 334,593.1 L345.2,594 L345.2,599.5 L339,600.3 L307.4,600.3" fill="#fff" stroke="#000" stroke-width="1.8" stroke-linejoin="round" />
<line x1="306" y1="548" x2="306" y2="598" stroke="#000" stroke-width="2.0" />
<line x1="307.4" y1="570" x2="329.4" y2="570" stroke="#000" stroke-width="1.8" />
<path d="M337.2,560.25 L345.7,559.4 L354.7,554.4 L366.4,554 L366.4,600 L354.7,599.6 L345.7,594" fill="#fff" stroke="#000" stroke-width="1.8" stroke-linejoin="round" />
<line x1="346.2" y1="559.4" x2="346.2" y2="594" stroke="#000" stroke-width="1.6" />
<line x1="355.6" y1="554.4" x2="355.6" y2="599.6" stroke="#000" stroke-width="1.6" />
<line x1="364.6" y1="554" x2="364.6" y2="600" stroke="#000" stroke-width="1.6" />
<rect x="368.2" y="547.3" width="18.5" height="60.1" rx="1.5" fill="#fff" stroke="#000" stroke-width="1.8"/>
<line x1="371.7" y1="550" x2="371.7" y2="605" stroke="#000" stroke-width="1.8" />
<line x1="371.7" y1="556.3" x2="380.5" y2="556.3" stroke="#000" stroke-width="2.6" stroke-linecap="round"/>
<line x1="371.7" y1="576.6" x2="380.5" y2="576.6" stroke="#000" stroke-width="2.6" stroke-linecap="round"/>
<line x1="371.7" y1="597.3" x2="380.5" y2="597.3" stroke="#000" stroke-width="2.6" stroke-linecap="round"/>
<line x1="300" y1="577.5" x2="387" y2="577.5" stroke="#000" stroke-width="0.9" stroke-dasharray="12 3 2 3"/>
<rect x="306.2" y="581.8" width="15" height="12.3" rx="0" fill="#000" stroke="none" stroke-width="0"/>
<line x1="321" y1="588.7" x2="389" y2="588.7" stroke="#000" stroke-width="8.0" />
<line x1="307.4" y1="600.3" x2="339" y2="600.3" stroke="#000" stroke-width="1.5" />
<line x1="281" y1="602.6" x2="337" y2="602.6" stroke="#000" stroke-width="1.3" />
<rect x="279.8" y="604.5" width="59.4" height="19.2" rx="1.5" fill="#fff" stroke="#000" stroke-width="1.8"/>
<path d="M286.0,606 L286.0,616 Q287.6,618.5 289.20000000000005,616 L289.20000000000005,606" fill="none" stroke="#000" stroke-width="1.6" stroke-linejoin="round" />
<path d="M307.09999999999997,606 L307.09999999999997,616 Q308.7,618.5 310.3,616 L310.3,606" fill="none" stroke="#000" stroke-width="1.6" stroke-linejoin="round" />
<path d="M328.2,606 L328.2,616 Q329.8,618.5 331.40000000000003,616 L331.40000000000003,606" fill="none" stroke="#000" stroke-width="1.6" stroke-linejoin="round" />
<line x1="280.5" y1="607.5" x2="338.5" y2="607.5" stroke="#000" stroke-width="1.2" />
<line x1="286.5" y1="623.7" x2="286.5" y2="646" stroke="#000" stroke-width="1.6" />
<line x1="332.5" y1="623.7" x2="332.5" y2="650" stroke="#000" stroke-width="1.6" />
<line x1="308.5" y1="352" x2="308.5" y2="666" stroke="#000" stroke-width="0.9" stroke-dasharray="10 2.5 2 2.5"/>
<rect x="178.2" y="670.8" width="164.6" height="7.8" rx="0" fill="#000" stroke="none" stroke-width="0"/>
<rect x="179.6" y="672.6" width="161.8" height="2.6" rx="0" fill="#e4e4e4" stroke="none" stroke-width="0"/>
<path d="M182.5,672 L182.5,651 Q183,646.5 187.5,646 L187.5,640" fill="none" stroke="#000" stroke-width="1.8" stroke-linejoin="round" />
<path d="M235,640 L235,644 Q236,646 240,646 L282,646 Q286.5,646 286.5,642" fill="none" stroke="#000" stroke-width="1.8" stroke-linejoin="round" />
<path d="M332.5,646 Q333,649.5 337,650.5 Q340,651.5 340,655 L340,672" fill="none" stroke="#000" stroke-width="1.8" stroke-linejoin="round" />
<rect x="181.2" y="617.5" width="59.8" height="17.5" rx="1.5" fill="#fff" stroke="#000" stroke-width="1.8"/>
<path d="M188.4,619 L188.4,629 Q190,631.5 191.6,629 L191.6,619" fill="none" stroke="#000" stroke-width="1.6" stroke-linejoin="round" />
<path d="M209.4,619 L209.4,629 Q211,631.5 212.6,629 L212.6,619" fill="none" stroke="#000" stroke-width="1.6" stroke-linejoin="round" />
<path d="M230.9,619 L230.9,629 Q232.5,631.5 234.1,629 L234.1,619" fill="none" stroke="#000" stroke-width="1.6" stroke-linejoin="round" />
<line x1="182" y1="620.5" x2="240" y2="620.5" stroke="#000" stroke-width="1.2" />
<rect x="185" y="635.6" width="52.5" height="3.2" rx="0" fill="#222" stroke="none" stroke-width="0"/>
<line x1="187.5" y1="638.8" x2="187.5" y2="646" stroke="#000" stroke-width="1.6" />
<line x1="235" y1="638.8" x2="235" y2="646" stroke="#000" stroke-width="1.6" />
<line x1="212.5" y1="589" x2="212.5" y2="668" stroke="#000" stroke-width="0.9" stroke-dasharray="10 2.5 2 2.5"/>
<path d="M112.5,582 L211.5,574.3 Q233.5,573.5 233.5,596 L233.5,616.4" fill="none" stroke="#000" stroke-width="1.8" stroke-linejoin="round" />
<path d="M114,626 L170,621.9 L182.6,606.6 Q183.3,605.8 184.5,605.7 L190,605.3 L190,617.5" fill="none" stroke="#000" stroke-width="1.8" stroke-linejoin="round" />
<rect x="0" y="0" width="0" height="0" rx="0" fill="#fff" stroke="#000" stroke-width="0"/>
<path d="M51.5,583.4 L107,577.9 L109.8,632.9 L56,637 Z" fill="#fff" stroke="#000" stroke-width="1.8" stroke-linejoin="round" />
<path d="M106,576 Q109.5,574 111.2,577 L114.3,632 Q113.5,637 110,635.5 Z" fill="#fff" stroke="#000" stroke-width="1.8" stroke-linejoin="round" />
<line x1="41" y1="610.9" x2="217" y2="595.8" stroke="#000" stroke-width="0.9" stroke-dasharray="12 3 2 3"/>
<path d="M668.75,168.1 L693.1,175.6 L684.4,221.5 L681,228.8 Q668,221.5 655.5,229.5 Z" fill="#fff" stroke="#000" stroke-width="1.8" stroke-linejoin="round" />
<path d="M693.1,176.9 L708,179.4 L700.5,220.8 L685,218.2 Z" fill="#fff" stroke="#000" stroke-width="1.8" stroke-linejoin="round" />
<line x1="709.2" y1="177" x2="699" y2="235" stroke="#000" stroke-width="3.0" />
<path d="M704.6,202.3 L709.6,203.2 L708.1,212.8 L703.1,211.9 Z" fill="#fff" stroke="#000" stroke-width="1.7" stroke-linejoin="round" />
<line x1="694.4" y1="200.3" x2="702.5" y2="201.9" stroke="#000" stroke-width="2.6" />
<line x1="692.5" y1="211" x2="700.6" y2="212.6" stroke="#000" stroke-width="2.6" />
<path d="M683.4,236.5 L695,236.5 L693.7,248 L690.8,249.5 L689.5,257 L682,257 L682.2,248 Z" fill="#000" stroke="none" stroke-width="0" stroke-linejoin="round" />
<path d="M680.8,224.5 L684.5,222.3 L686.2,223 L685,235.3 L680.5,235.6 Z" fill="#fff" stroke="#000" stroke-width="1.7" stroke-linejoin="round" />
<path d="M684,221.2 L687.5,221.8 L687,224.2 L684,224 Z" fill="#000" stroke="none" stroke-width="0" stroke-linejoin="round" />
<ellipse cx="690.9" cy="231.7" rx="5.2" ry="4.7" fill="#fff" stroke="#000" stroke-width="1.8"/>
<path d="M662.5,153.1 L670.6,154.4 L653.2,243 L645.3,242.3 Z" fill="#fff" stroke="#000" stroke-width="1.8" stroke-linejoin="round" />
<path d="M654.8,153.6 L662.2,154.6 L646.8,242 L638.6,240 Z" fill="#000" stroke="none" stroke-width="0" stroke-linejoin="round" />
<line x1="658.7" y1="154.2" x2="642.6" y2="241.2" stroke="#fff" stroke-width="0.8" />
<path d="M636,150.5 L655.5,152.2 L638.5,239.1 L619.8,233.1 Q618.5,185 636,150.5 Z" fill="#fff" stroke="#000" stroke-width="1.9" stroke-linejoin="round" />
<path d="M636.2,151 Q625,188 622.5,233.5" fill="none" stroke="#000" stroke-width="1.8" stroke-linejoin="round" />
<line x1="632.3" y1="165.3" x2="650.3" y2="169.8" stroke="#000" stroke-width="1.6" />
<line x1="630.8" y1="179.5" x2="649.5" y2="178" stroke="#000" stroke-width="1.6" />
<line x1="625.8" y1="205" x2="643" y2="212.5" stroke="#000" stroke-width="1.6" />
<line x1="623.5" y1="219.3" x2="641.5" y2="220.8" stroke="#000" stroke-width="1.6" />
<line x1="678" y1="197" x2="667.5" y2="250" stroke="#000" stroke-width="0.9" stroke-dasharray="6 2 1.5 2"/>
<line x1="602.7" y1="187" x2="757.7" y2="218.6" stroke="#000" stroke-width="0.9" stroke-dasharray="10 2.5"/>
<line x1="642.5" y1="140" x2="642.5" y2="196" stroke="#777" stroke-width="1.0" />
<line x1="584" y1="196.5" x2="642.5" y2="196.5" stroke="#000" stroke-width="1.0" />
</svg></body></html>
